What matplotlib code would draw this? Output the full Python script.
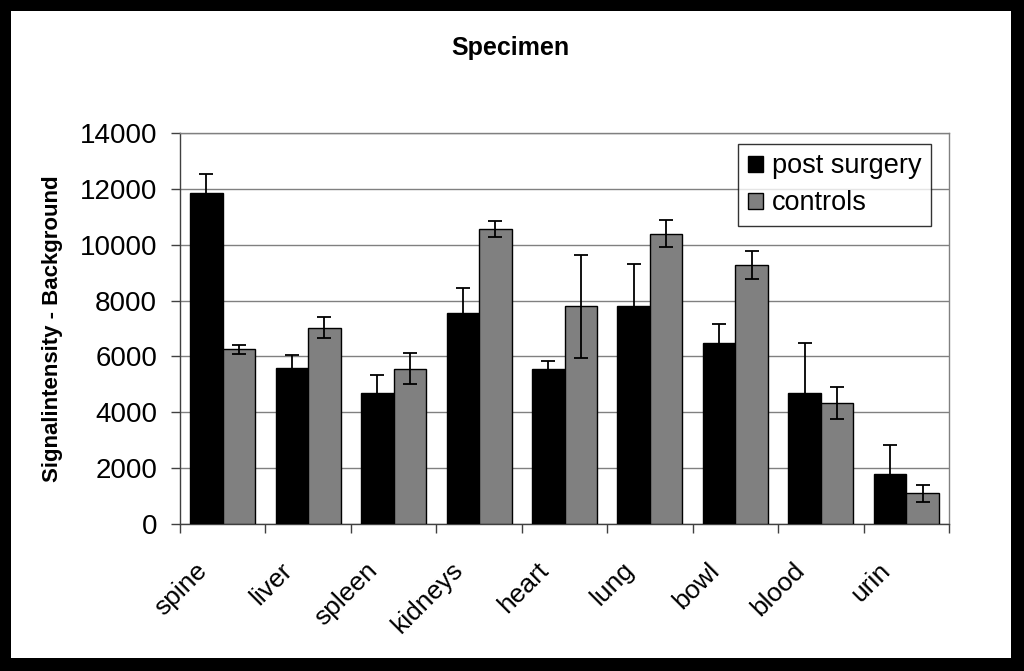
import numpy as np
import matplotlib
matplotlib.use("Agg")
import matplotlib.pyplot as plt
from matplotlib.patches import Rectangle
import matplotlib.transforms as mtransforms

plt.rcParams['font.family'] = ['Liberation Sans', 'DejaVu Sans']

categories = ['spine', 'liver', 'spleen', 'kidneys', 'heart', 'lung', 'bowl', 'blood', 'urin']
post_surgery = [11860, 5580, 4690, 7540, 5560, 7810, 6480, 4690, 1780]
post_surgery_err = [680, 470, 640, 900, 270, 1510, 690, 1780, 1040]
controls = [6250, 7020, 5560, 10560, 7800, 10400, 9270, 4330, 1100]
controls_err = [150, 375, 560, 300, 1840, 470, 495, 570, 300]

W, H = 1024, 671
fig = plt.figure(figsize=(W / 100, H / 100), dpi=100)
fig.patch.set_facecolor('black')
# white card inside the thick black frame
fig.patches.append(Rectangle((11 / W, 13 / H), (1011 - 11) / W, (658 - 11) / H,
                             transform=fig.transFigure, facecolor='white',
                             edgecolor='none', zorder=-10))

ax = fig.add_axes([180 / W, 1 - 524 / H, (949 - 180) / W, (524 - 133) / H])
ax.set_facecolor('white')

x = np.arange(len(categories))
bw = 0.38
err_kw = dict(ecolor='black', elinewidth=1.3, capsize=5, capthick=1.3)
ax.bar(x - bw / 2, post_surgery, bw, yerr=post_surgery_err, color='black',
       edgecolor='black', linewidth=1.0, label='post surgery', error_kw=err_kw, zorder=3)
ax.bar(x + bw / 2, controls, bw, yerr=controls_err, color='#808080',
       edgecolor='black', linewidth=1.0, label='controls', error_kw=err_kw, zorder=3)

ax.set_xlim(-0.5, len(categories) - 0.5)
ax.set_ylim(0, 14000)
ax.set_yticks(np.arange(0, 14001, 2000))
ax.yaxis.grid(True, color='#808080', linewidth=1.0, zorder=0)
ax.set_axisbelow(True)

# ticks at category boundaries, labels at centres
ax.set_xticks(np.arange(-0.5, len(categories), 1.0))
ax.set_xticklabels([])
ax.tick_params(axis='x', which='major', direction='out', length=6.5, width=1.0, color='#404040')
ax.tick_params(axis='y', direction='out', length=6.5, width=1.0, color='#404040',
               labelsize=20, pad=10)

offset = mtransforms.ScaledTranslation(-11 / 100, -34 / 100, fig.dpi_scale_trans)
trans = mtransforms.blended_transform_factory(ax.transData, ax.transAxes) + offset
for i, name in enumerate(categories):
    ax.text(i, 0, name, transform=trans, rotation=45, ha='right', va='top', fontsize=19)

for side in ['left', 'bottom']:
    ax.spines[side].set_color('#404040')
    ax.spines[side].set_linewidth(1.0)
for side in ['top', 'right']:
    ax.spines[side].set_color('#808080')
    ax.spines[side].set_linewidth(1.0)

ax.set_ylabel('Signalintensity - Background', fontsize=16, fontweight='bold')
ax.yaxis.set_label_coords(-0.152, 0.5)

fig.text(510 / W, 1 - 48 / H, 'Specimen', ha='center', va='center',
         fontsize=18, fontweight='bold')

leg = ax.legend(loc='upper right', bbox_to_anchor=(0.977, 0.972), borderaxespad=0,
                fontsize=19.5, frameon=True, fancybox=False, edgecolor='black',
                handlelength=0.55, handleheight=0.55, handletextpad=0.35,
                labelspacing=0.4, borderpad=0.35)
leg.get_frame().set_linewidth(1.0)

fig.savefig('out.png', dpi=100, facecolor=fig.get_facecolor())
